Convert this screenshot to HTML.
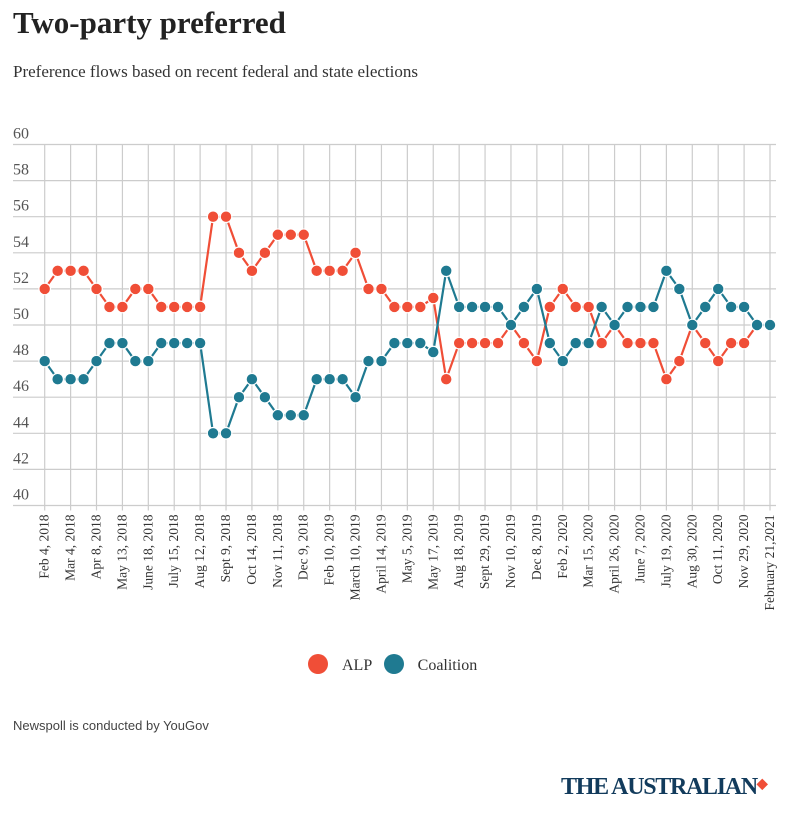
<!DOCTYPE html>
<html><head><meta charset="utf-8"><style>
body{margin:0;width:799px;height:815px;background:#fff;overflow:hidden;position:relative}
.t{position:absolute;white-space:nowrap}
</style></head><body>
<div class="t" style="left:13px;top:5px;font:bold 31px 'Liberation Serif',serif;color:#222">Two-party preferred</div>
<div class="t" style="left:13px;top:62px;font:17px 'Liberation Serif',serif;color:#333">Preference flows based on recent federal and state elections</div>
<svg id="chart" width="799" height="640" style="position:absolute;left:0;top:0"></svg>
<div class="t" style="left:308px;top:654px;font:16px 'Liberation Serif',serif;color:#333">
<span><span style="display:inline-block;width:20px;height:20px;border-radius:50%;background:#f04e37;vertical-align:-4px;margin-right:14px"></span>ALP</span>
<span style="margin-left:8px"><span style="display:inline-block;width:20px;height:20px;border-radius:50%;background:#1f7a91;vertical-align:-4px;margin-right:14px"></span>Coalition</span>
</div>
<div class="t" style="left:13px;top:718px;font:13px 'Liberation Sans',sans-serif;color:#444">Newspoll is conducted by YouGov</div>
<div class="t" style="left:561px;top:774px;font:bold 24px 'Liberation Serif',serif;color:#123b5c;letter-spacing:-1.3px">THE AUSTRALIAN<span style="color:#f04e37;font-size:14px;vertical-align:6px">&#9670;</span></div>
<script>
const labels=["Feb 4, 2018","Mar 4, 2018","Apr 8, 2018","May 13, 2018","June 18, 2018","July 15, 2018","Aug 12, 2018","Sept 9, 2018","Oct 14, 2018","Nov 11, 2018","Dec 9, 2018","Feb 10, 2019","March 10, 2019","April 14, 2019","May 5, 2019","May 17, 2019","Aug 18, 2019","Sept 29, 2019","Nov 10, 2019","Dec 8, 2019","Feb 2, 2020","Mar 15, 2020","April 26, 2020","June 7, 2020","July 19, 2020","Aug 30, 2020","Oct 11, 2020","Nov 29, 2020","February 21,2021"];
const alp=[52,53,53,53,52,51,51,52,52,51,51,51,51,56,56,54,53,54,55,55,55,53,53,53,54,52,52,51,51,51,51.5,47,49,49,49,49,50,49,48,51,52,51,51,49,50,49,49,49,47,48,50,49,48,49,49,50,50];
const coalition=[48,47,47,47,48,49,49,48,48,49,49,49,49,44,44,46,47,46,45,45,45,47,47,47,46,48,48,49,49,49,48.5,53,51,51,51,51,50,51,52,49,48,49,49,51,50,51,51,51,53,52,50,51,52,51,51,50,50];
const yTicks=[40,42,44,46,48,50,52,54,56,58,60];
const svg=document.getElementById('chart');const NS='http://www.w3.org/2000/svg';
const x=i=>44.7+i*(770-44.7)/(alp.length-1);
const y=v=>505.5-(v-40)*18.05;
function mk(t,a){const e=document.createElementNS(NS,t);for(const k in a)e.setAttribute(k,a[k]);svg.appendChild(e);return e;}
yTicks.forEach(v=>{
 const l=mk('line',{x1:13,x2:776,y1:y(v),y2:y(v),stroke:'#ccc','stroke-width':1.2});
 
 
 const t=mk('text',{x:13,y:y(v)-6,'font-family':'Liberation Serif,serif','font-size':16,fill:'#555'});t.textContent=v;
 
 
});
labels.forEach((s,j)=>{
 const xx=x(j*2);
 const l=mk('line',{x1:xx,x2:xx,y1:y(60),y2:y(40)+5,stroke:'#ccc','stroke-width':1.2});
 
 
 const t=mk('text',{x:0,y:0,transform:`translate(${xx+4},${y(40)+9}) rotate(-90)`,'text-anchor':'end','font-family':'Liberation Serif,serif','font-size':13.5,fill:'#333'});t.textContent=s;
 
 
});
function series(d,c,n){
 const p=mk('polyline',{points:d.map((v,i)=>x(i)+','+y(v)).join(' '),fill:'none',stroke:c,'stroke-width':2.2});
 
 
 d.forEach((v,i)=>{const ci=mk('circle',{cx:x(i),cy:y(v),r:5.8,fill:c,stroke:'#fff','stroke-width':1.2});
 
 });
}
series(alp,'#f04e37','alp');
series(coalition,'#1f7a91','coalition');
</script>
</body></html>
